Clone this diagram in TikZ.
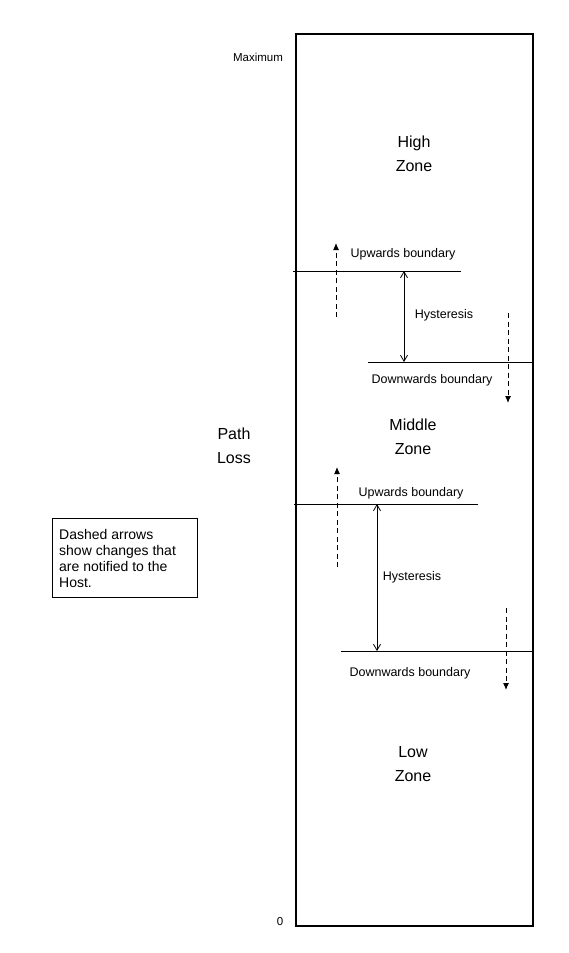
\documentclass[tikz,border=0pt]{standalone}
\usepackage{fontspec}
\setmainfont{Liberation Sans}
\usetikzlibrary{arrows.meta}
\tikzset{
  small/.style={font=\fontsize{12.5}{14}\selectfont, inner sep=0pt},
  zone/.style={font=\fontsize{16}{24}\selectfont, align=center, inner sep=0pt},
  bound/.style={line width=1pt},
  hyst/.style={line width=0.8pt, {Straight Barb[length=6pt,width=7pt]}-{Straight Barb[length=6pt,width=7pt]}},
  notify/.style={line width=1pt, dash pattern=on 5pt off 3.5pt, -{Latex[length=7pt,width=6pt]}},
}
\begin{document}
\begin{tikzpicture}[x=1pt,y=-1pt]
\useasboundingbox (0,0) rectangle (568,953);
% frame
\node[draw, line width=1.2pt, minimum width=237pt, minimum height=892pt, inner sep=0pt] (frame) at (414.5,480) {};
\node[font=\fontsize{11.5}{13}\selectfont, inner sep=0pt] (max) at (258,57) {Maximum};
\node[font=\fontsize{11.5}{13}\selectfont, inner sep=0pt] (zero) at (280,922) {0};
\node[zone] (high) at (414,154) {High\\Zone};
\node[zone] (middle) at (413,437) {Middle\\Zone};
\node[zone] (low) at (413,764) {Low\\Zone};
\node[zone] (path) at (234,446) {Path\\Loss};
% note box
\node[draw, line width=0.9pt, minimum width=145pt, minimum height=79pt, anchor=north west, inner sep=0pt] (note) at (52,518) {};
\node[font=\fontsize{14}{16}\selectfont, align=left, anchor=west, inner sep=0pt] (notetext) at (59,558) {Dashed arrows\\show changes that\\are notified to the\\Host.};
% upper boundaries
\coordinate (ub1l) at (293,271);
\coordinate (ub1r) at (461,271);
\draw[bound] (ub1l) -- (ub1r);
\node[small] (ub1t) at (403,254) {Upwards boundary};
\coordinate (du1s) at (336,317);
\coordinate (du1e) at (336,243);
\draw[notify] (du1s) -- (du1e);
\coordinate (h1t) at (404,271);
\coordinate (h1b) at (404,362);
\draw[hyst] (h1t) -- (h1b);
\node[small] (h1txt) at (444,315) {Hysteresis};
\coordinate (db1l) at (368,362);
\coordinate (db1r) at (frame.east |- db1l);
\draw[bound] (db1l) -- (db1r);
\node[small] (db1t) at (432,380) {Downwards boundary};
\coordinate (dd1s) at (508,313);
\coordinate (dd1e) at (508,403);
\draw[notify] (dd1s) -- (dd1e);
% lower boundaries
\coordinate (ub2l) at (294,504);
\coordinate (ub2r) at (478,504);
\draw[bound] (ub2l) -- (ub2r);
\node[small] (ub2t) at (411,493) {Upwards boundary};
\coordinate (du2s) at (337,567);
\coordinate (du2e) at (337,467);
\draw[notify] (du2s) -- (du2e);
\coordinate (h2t) at (377,504);
\coordinate (h2b) at (377,651);
\draw[hyst] (h2t) -- (h2b);
\node[small] (h2txt) at (412,577) {Hysteresis};
\coordinate (db2l) at (341,651);
\coordinate (db2r) at (frame.east |- db2l);
\draw[bound] (db2l) -- (db2r);
\node[small] (db2t) at (410,673) {Downwards boundary};
\coordinate (dd2s) at (506,608);
\coordinate (dd2e) at (506,690);
\draw[notify] (dd2s) -- (dd2e);
\end{tikzpicture}
\end{document}
